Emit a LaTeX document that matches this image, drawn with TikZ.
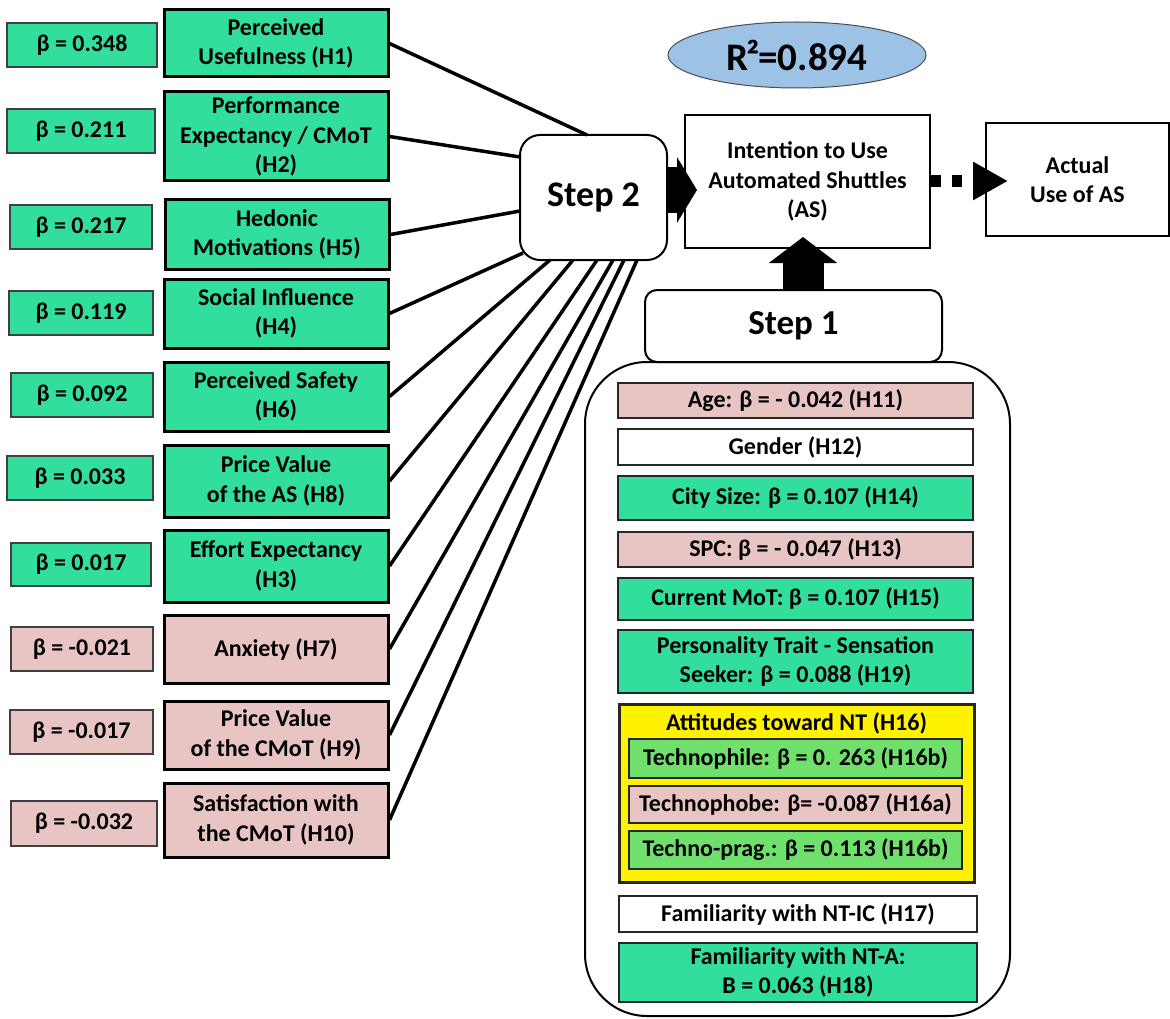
\documentclass[tikz,border=0pt]{standalone}
\usepackage{fontspec}
\setmainfont{Carlito}
\usetikzlibrary{arrows.meta,shapes.geometric}
\definecolor{grn}{RGB}{50,222,155}
\definecolor{pnk}{RGB}{232,196,194}
\definecolor{lgrn}{RGB}{111,224,107}
\definecolor{ylw}{RGB}{255,242,0}
\definecolor{eblue}{RGB}{156,194,229}
\begin{document}
\begin{tikzpicture}[x=1pt,y=-1pt,
  txt/.style={font=\fontsize{24}{29.5}\selectfont\bfseries, align=center, inner sep=0pt},
  beta/.style={txt, draw=black!75, line width=1.5},
  cons/.style={txt, draw=black, line width=3, minimum width=224},
  item/.style={txt, draw=black!85, line width=2.5},
  link/.style={line width=3.5},
  fat/.style={line width=#1}]
\useasboundingbox (0,0) rectangle (1170,1019);
\fill[white] (0,0) rectangle (1170,1019);

% beta boxes
\node[beta, fill=grn, minimum width=150, minimum height=44] (b1) at (82,45) {β = 0.348};
\node[beta, fill=grn, minimum width=148, minimum height=44] (b2) at (81,131) {β = 0.211};
\node[beta, fill=grn, minimum width=142, minimum height=44] (b3) at (81,227) {β = 0.217};
\node[beta, fill=grn, minimum width=144, minimum height=44] (b4) at (81,313) {β = 0.119};
\node[beta, fill=grn, minimum width=142, minimum height=44] (b5) at (82,395) {β = 0.092};
\node[beta, fill=grn, minimum width=146, minimum height=44] (b6) at (80,478) {β = 0.033};
\node[beta, fill=grn, minimum width=140, minimum height=43] (b7) at (81,564.5) {β = 0.017};
\node[beta, fill=pnk, minimum width=142, minimum height=44] (b8) at (82,649) {β = -0.021};
\node[beta, fill=pnk, minimum width=143, minimum height=44] (b9) at (81.5,732) {β = -0.017};
\node[beta, fill=pnk, minimum width=146, minimum height=45] (b10) at (84,823.5) {β = -0.032};

% construct boxes
\node[cons, fill=grn, minimum height=67] (c1) at (276,43.5) {Perceived\\Usefulness (H1)};
\node[cons, fill=grn, minimum height=89] (c2) at (276,136.5) {Performance\\Expectancy / CMoT\\(H2)};
\node[cons, fill=grn, minimum height=69] (c3) at (277,234.5) {Hedonic\\Motivations (H5)};
\node[cons, fill=grn, minimum height=69] (c4) at (276,313.5) {Social Influence\\(H4)};
\node[cons, fill=grn, minimum height=69] (c5) at (276,396.5) {Perceived Safety\\(H6)};
\node[cons, fill=grn, minimum height=72] (c6) at (276,481) {Price Value\\of the AS (H8)};
\node[cons, fill=grn, minimum height=72] (c7) at (276,566) {Effort Expectancy\\(H3)};
\node[cons, fill=pnk, minimum height=68] (c8) at (276,649) {Anxiety (H7)};
\node[cons, fill=pnk, minimum height=68] (c9) at (276,735) {Price Value\\of the CMoT (H9)};
\node[cons, fill=pnk, minimum height=74] (c10) at (276,820) {Satisfaction with\\the CMoT (H10)};

% Step 2
\node[txt, draw=black, line width=2, fill=white, rounded corners=20, minimum width=147, minimum height=125,
      font=\fontsize{36}{40}\selectfont\bfseries] (s2) at (593.5,197.5) {Step 2};

% link end points on Step 2
\coordinate (e1) at (587,135);
\coordinate (e2) at (520,157);
\coordinate (e3) at (520,211);
\coordinate (e4) at (523,253);
\coordinate (e5) at (550,260);
\coordinate (e6) at (573,260);
\coordinate (e7) at (597,260);
\coordinate (e8) at (613,260);
\coordinate (e9) at (624,260);
\coordinate (e10) at (637,260);
\foreach \i in {1,...,10} {\draw[link] (c\i.east) -- (e\i);}

% R^2 ellipse
\node[ellipse, draw=black!70, line width=1, fill=eblue, minimum width=258, minimum height=66, inner sep=0pt,
      font=\fontsize{39}{40}\selectfont\bfseries] (r2) at (797,55) {R\kern-2.5pt²\kern-1pt=0.894};

% Intention and Actual Use
\node[txt, draw=black, line width=2, fill=white, minimum width=245, minimum height=133] (int) at (807.5,181.5) {Intention to Use\\Automated Shuttles\\(AS)};
\node[txt, draw=black, line width=2, fill=white, minimum width=183, minimum height=113] (act) at (1077.5,179.5) {Actual\\Use of AS};

% fat arrow Step 2 -> Intention
\coordinate (a2) at (697,190);
\draw[fat=46, -{Triangle[length=20pt,width=65pt]}] (s2.east |- a2) -- (a2);

% dotted arrow Intention -> Actual
\coordinate (a3) at (1008,181);
\draw[fat=12, dash pattern=on 10pt off 11pt, -{Triangle[length=35pt,width=36pt]}] (int.east |- a3) -- (a3);

% Step 1 container
\node[draw=black, line width=2, rounded corners=62, minimum width=425, minimum height=654, inner sep=0pt] (cont) at (797.5,689) {};
\node[txt, draw=black, line width=2, fill=white, rounded corners=12, minimum width=297, minimum height=72,
      font=\fontsize{35}{40}\selectfont\bfseries] (s1) at (793.5,326) {Step 1};

% up arrow Step 1 -> Intention
\coordinate (a1) at (803,237);
\draw[fat=41, -{Triangle[length=26pt,width=67pt]}] (a1 |- s1.north) -- (a1);

% Step 1 items
\node[item, fill=pnk, minimum width=355, minimum height=35] (i1) at (795.5,400.5) {Age: β = - 0.042 (H11)};
\node[item, fill=white, minimum width=355, minimum height=36] (i2) at (795.5,447) {Gender (H12)};
\node[item, fill=grn, minimum width=355, minimum height=44] (i3) at (795.5,498) {City Size: β = 0.107 (H14)};
\node[item, fill=pnk, minimum width=355, minimum height=35] (i4) at (795.5,549.5) {SPC: β = - 0.047 (H13)};
\node[item, fill=grn, minimum width=355, minimum height=42] (i5) at (795.5,599) {Current MoT: β = 0.107 (H15)};
\node[item, fill=grn, minimum width=355, minimum height=63] (i6) at (795.5,661.5) {Personality Trait - Sensation\\Seeker: β = 0.088 (H19)};
\node[item, fill=ylw, line width=3, minimum width=355, minimum height=178] (att) at (796.5,793) {};
\node[txt] (attt) at (796.5,723) {Attitudes toward NT (H16)};
\node[item, fill=lgrn, line width=1.5, minimum width=333, minimum height=39] (t1) at (795.5,758.5) {Technophile: β = 0. 263 (H16b)};
\node[item, fill=pnk, line width=1.5, minimum width=333, minimum height=37] (t2) at (795.5,804.5) {Technophobe: β= -0.087 (H16a)};
\node[item, fill=lgrn, line width=1.5, minimum width=333, minimum height=38] (t3) at (795.5,850) {Techno-prag.: β = 0.113 (H16b)};
\node[item, fill=white, minimum width=358, minimum height=36] (i7) at (798,914) {Familiarity with NT-IC (H17)};
\node[item, fill=grn, minimum width=358, minimum height=59] (i8) at (798,972.5) {Familiarity with NT-A:\\B = 0.063 (H18)};
\end{tikzpicture}
\end{document}
